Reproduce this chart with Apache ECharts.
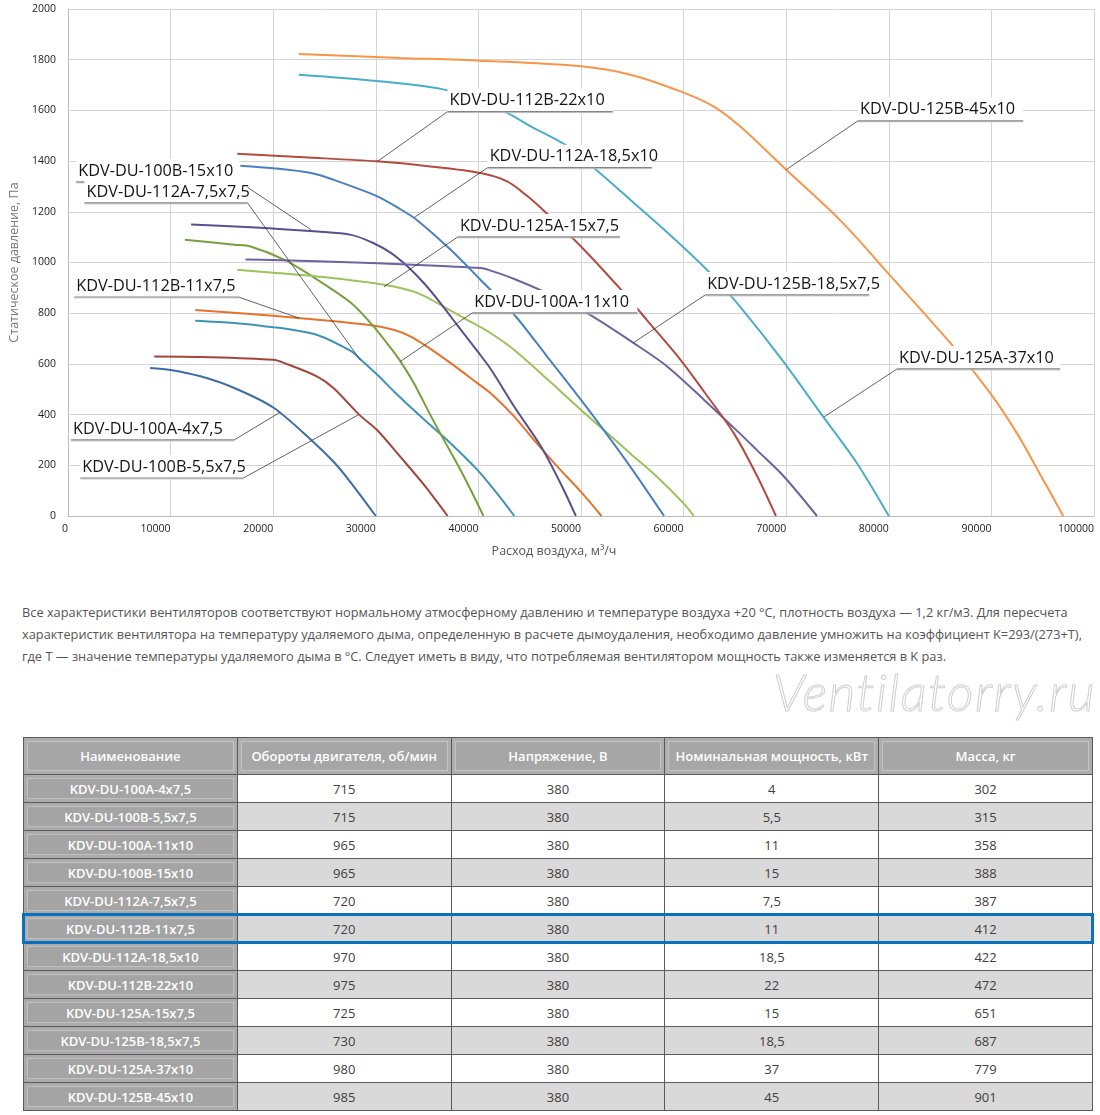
<!DOCTYPE html>
<html><head><meta charset="utf-8">
<script src="https://cdn.jsdelivr.net/npm/echarts@6/dist/echarts.min.js"></script>
<style>
html,body{margin:0;padding:0;background:#fff;}
body{width:1100px;height:1115px;position:relative;overflow:hidden;font-family:"Open Sans",sans-serif;}
#chart{position:absolute;left:0;top:0;width:1100px;height:590px;}
#note{position:absolute;left:22px;top:601px;font-size:12.8px;line-height:22px;color:#555;white-space:nowrap;}
#wm{position:absolute;left:773px;top:660px;font-family:Lato,"Open Sans",sans-serif;font-style:italic;font-weight:300;font-size:52px;color:#fff;-webkit-text-stroke:1px #cfcfcf;letter-spacing:1.5px;}
#tbl{position:absolute;left:23px;top:737px;width:1070px;border-collapse:collapse;table-layout:fixed;font-size:13px;}
#tbl td,#tbl th{border:1px solid #5a5a5a;text-align:center;padding:0;}
#tbl th{height:36px;background:#a6a6a6;color:#fff;font-weight:600;box-shadow:inset 0 0 0 3px #adadad, inset 0 0 0 4px #c4c4c4;}
#tbl td{height:27px;color:#404040;}
#tbl td.n{background:#a4a4a4;color:#fff;font-weight:600;box-shadow:inset 0 0 0 3px #ababab, inset 0 0 0 4px #c0c0c0;}
#tbl tr.g td{background:#d9d9d9;}
#tbl tr.g td.n{background:#a4a4a4;}
#hl{position:absolute;left:22px;top:913px;width:1072px;height:31px;box-sizing:border-box;border:3px solid #0a72bd;}
</style></head>
<body>
<div id="chart"></div>
<div id="note">Все характеристики вентиляторов соответствуют нормальному атмосферному давлению и температуре воздуха +20 °C, плотность воздуха — 1,2 кг/м3. Для пересчета<br>характеристик вентилятора на температуру удаляемого дыма, определенную в расчете дымоудаления, необходимо давление умножить на коэффициент K=293/(273+T),<br>где T — значение температуры удаляемого дыма в °C. Следует иметь в виду, что потребляемая вентилятором мощность также изменяется в K раз.</div>
<div id="wm">Ventilatorry.ru</div>
<table id="tbl"><thead><tr id="hdr"></tr></thead><tbody id="tb"></tbody></table>
<div id="hl"></div>
<script>
// ---- chart data (x: air flow m3/h, y: static pressure Pa) ----
const xTicks = [0,10000,20000,30000,40000,50000,60000,70000,80000,90000,100000];
const yTicks = [0,200,400,600,800,1000,1200,1400,1600,1800,2000];

const c100A_4 = [[8000,584],[10000,576],[13000,550],[16200,505],[20000,428],[23700,300],[26000,209],[27600,130],[30000,0]];
const c100B_55 = [[8400,629],[13000,627],[20000,616],[21100,603],[24300,550],[25900,504],[28400,399],[30100,340],[32400,233],[34800,118],[37000,0]];
const cTeal = [[12400,770],[16200,761],[20000,745],[21100,740],[24300,714],[27600,650],[28500,618],[30200,555],[31800,490],[33500,425],[35000,370],[37000,298],[39900,182],[41800,90],[43500,0]];
const cOrangeDark = [[12400,813],[17800,797],[22700,780],[29200,754],[31800,734],[33400,708],[35000,668],[37300,603],[39900,524],[41200,484],[43500,392],[45400,300],[47700,195],[50000,95],[52000,0]];
const cOlive = [[11400,1090],[16200,1070],[17800,1063],[21100,1010],[24300,932],[27600,840],[29800,747],[31500,660],[32400,610],[33700,525],[35300,400],[36300,325],[38600,155],[40500,0]];
const cLightGreen = [[16500,971],[20000,960],[24300,945],[30800,912],[34100,879],[36600,826],[38900,774],[41200,721],[43500,655],[46700,540],[50000,418],[52200,340],[54800,247],[57400,155],[60000,50],[61000,0]];
const cPurpleDark = [[12000,1150],[17800,1139],[24300,1122],[27600,1109],[29800,1076],[31500,1037],[33100,984],[34700,918],[36300,840],[37900,755],[39900,650],[41200,580],[43500,431],[46100,274],[48000,129],[49500,0]];
const cPurple = [[17300,1012],[20000,1010],[30200,997],[37000,985],[40200,978],[41200,968],[43500,935],[46700,879],[50600,800],[55100,683],[58400,590],[62000,458],[65500,325],[67200,258],[69800,155],[73000,0]];
const cBlue = [[16800,1382],[20000,1372],[23700,1353],[25900,1326],[30100,1262],[32400,1210],[34000,1168],[37300,1050],[40200,932],[43500,794],[46700,629],[50000,458],[52200,340],[54800,195],[58100,0]];
const cRed = [[16500,1429],[23000,1415],[30100,1399],[35300,1379],[40200,1353],[42800,1320],[44800,1261],[46700,1192],[50000,1063],[54200,879],[56400,774],[59700,616],[62000,490],[64900,326],[67200,155],[69000,0]];
const cAqua = [[22500,1741],[30100,1716],[37000,1679],[42500,1596],[45100,1537],[48700,1458],[51300,1372],[54800,1248],[59000,1097],[62600,958],[65500,826],[69600,616],[73600,392],[76900,208],[80000,0]];
const cOrange = [[22500,1822],[32400,1807],[40200,1796],[50000,1774],[54800,1741],[59700,1675],[62900,1616],[65500,1537],[70000,1366],[75300,1165],[80100,950],[86300,668],[89900,484],[92500,326],[94700,168],[97000,0]];

// callout labels: name, anchor point on curve, underline [x1, x2, y, leaderFromRightEnd]
const calloutNames = ['KDV-DU-112B-22x10','KDV-DU-112A-18,5x10','KDV-DU-125B-45x10','KDV-DU-100B-15x10','KDV-DU-112A-7,5x7,5','KDV-DU-125A-15x7,5','KDV-DU-112B-11x7,5','KDV-DU-100A-11x10','KDV-DU-125B-18,5x7,5','KDV-DU-125A-37x10','KDV-DU-100A-4x7,5','KDV-DU-100B-5,5x7,5'];
const calloutAnchors = [[30100,1397],[33700,1176],[70000,1366],[23700,1129],[28500,615],[30800,904],[22500,781],[32400,610],[55100,683],[73700,391],[20700,410],[28300,399]];
const calloutLines = [[37000,53100,1595,0],[40900,56900,1374,0],[77000,93100,1559,0],[800,16700,1318,1],[1600,17500,1235,1],[38000,53800,1101,0],[600,16600,864,1],[39400,55500,801,0],[62100,78100,872,0],[80800,96700,580,0],[300,16200,300,1],[1200,17100,150,1]];

// ---- table data ----
const tableHeaders = ['Наименование','Обороты двигателя, об/мин','Напряжение, В','Номинальная мощность, кВт','Масса, кг'];
const models = ['KDV-DU-100A-4x7,5','KDV-DU-100B-5,5x7,5','KDV-DU-100A-11x10','KDV-DU-100B-15x10','KDV-DU-112A-7,5x7,5','KDV-DU-112B-11x7,5','KDV-DU-112A-18,5x10','KDV-DU-112B-22x10','KDV-DU-125A-15x7,5','KDV-DU-125B-18,5x7,5','KDV-DU-125A-37x10','KDV-DU-125B-45x10'];
const rpm = [715,715,965,965,720,720,970,975,725,730,980,985];
const voltage = [380,380,380,380,380,380,380,380,380,380,380,380];
const power = ['4','5,5','11','15','7,5','11','18,5','22','15','18,5','37','45'];
const mass = [302,315,358,388,387,412,422,472,651,687,779,901];

// build table
const hdr = document.getElementById('hdr');
tableHeaders.forEach(h => { const th = document.createElement('th'); th.textContent = h; hdr.appendChild(th); });
const tb = document.getElementById('tb');
models.forEach((m, i) => {
  const tr = document.createElement('tr');
  if (i % 2 === 1) tr.className = 'g';
  [m, rpm[i], voltage[i], power[i], mass[i]].forEach((v, j) => {
    const td = document.createElement('td'); td.textContent = v; if (j === 0) td.className = 'n'; tr.appendChild(td);
  });
  tb.appendChild(tr);
});

// build chart
const curves = [
  {d: c100A_4, c: '#3b6ea6'},
  {d: c100B_55, c: '#a2463b'},
  {d: cTeal, c: '#3f93b4'},
  {d: cOrangeDark, c: '#e4732c'},
  {d: cOlive, c: '#76a03e'},
  {d: cLightGreen, c: '#9cc25b'},
  {d: cPurpleDark, c: '#5b4f8d'},
  {d: cPurple, c: '#6f62a2'},
  {d: cBlue, c: '#4a80c2'},
  {d: cRed, c: '#b34b3f'},
  {d: cAqua, c: '#4aaec8'},
  {d: cOrange, c: '#f7954a'}
];
const series = curves.map(s => ({
  type: 'line', data: s.d, smooth: 0.3, showSymbol: false, symbol: 'none',
  lineStyle: {color: s.c, width: 2}, z: 2, silent: true
}));
series.push({
  type: 'custom', z: 10, silent: true, clip: false,
  data: calloutNames.map((n, i) => ({name: n, value: [calloutAnchors[i][0], calloutAnchors[i][1]].concat(calloutLines[i])})),
  encode: {x: 0, y: 1},
  renderItem: function (params, api) {
    const i = params.dataIndex;
    const a = api.coord([api.value(0), api.value(1)]);
    const p1 = api.coord([api.value(2), api.value(4)]);
    const p2 = api.coord([api.value(3), api.value(4)]);
    const e = api.value(5) ? p2 : p1;
    return {type: 'group', children: [
      {type: 'rect', shape: {x: p1[0], y: p1[1] - 23, width: p2[0] - p1[0], height: 23}, style: {fill: '#fff'}},
      {type: 'line', shape: {x1: e[0], y1: e[1], x2: a[0], y2: a[1]}, style: {stroke: '#3a3a3a', lineWidth: 0.8}},
      {type: 'line', shape: {x1: p1[0], y1: p1[1] + 1, x2: p2[0], y2: p2[1] + 1}, style: {stroke: '#c8c8c8', lineWidth: 1}},
      {type: 'line', shape: {x1: p1[0], y1: p1[1], x2: p2[0], y2: p2[1]}, style: {stroke: '#858585', lineWidth: 1.2}},
      {type: 'text', x: p1[0] + 2, y: p1[1] - 3, style: {text: calloutNames[i], fill: '#151515', font: '16.3px "Open Sans", sans-serif', align: 'left', verticalAlign: 'bottom'}}
    ]};
  }
});

const chart = echarts.init(document.getElementById('chart'), null, {renderer: 'canvas'});
chart.setOption({
  animation: false,
  textStyle: {fontFamily: '"Open Sans", sans-serif'},
  grid: {left: 67, right: 6, top: 9, height: 507},
  xAxis: {
    type: 'value', min: xTicks[0], max: xTicks[xTicks.length - 1], interval: 10000,
    name: 'Расход воздуха, м³/ч', nameLocation: 'middle', nameGap: 29,
    nameTextStyle: {color: '#555', fontSize: 12.5, padding: [0, 54, 0, 0]},
    axisLine: {lineStyle: {color: '#bcbcbc', width: 1}}, axisTick: {show: false},
    axisLabel: {color: '#222', fontSize: 10.5, margin: 8, align: 'right', formatter: v => String(v)},
    splitLine: {show: true, lineStyle: {color: '#d4d4d4', width: 1}}
  },
  yAxis: {
    type: 'value', min: yTicks[0], max: yTicks[yTicks.length - 1], interval: 200,
    name: 'Статическое давление, Па', nameLocation: 'middle', nameGap: 47,
    nameTextStyle: {color: '#777', fontSize: 12.5},
    axisLine: {show: true, lineStyle: {color: '#bcbcbc', width: 1}}, axisTick: {show: false},
    axisLabel: {color: '#222', fontSize: 10.5, margin: 12, formatter: v => String(v)},
    splitLine: {show: true, lineStyle: {color: '#d4d4d4', width: 1}}
  },
  series: series
});
</script>
</body></html>
